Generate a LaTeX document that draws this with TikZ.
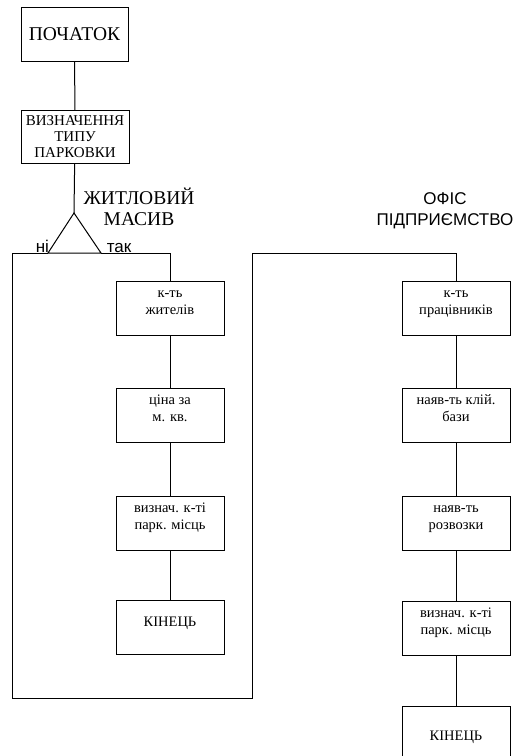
\documentclass[tikz,border=0pt]{standalone}
\usepackage{fontspec}
\setmainfont{Liberation Serif}
\newfontfamily\sansfont{Liberation Sans}
\usetikzlibrary{positioning}

\begin{document}
\begin{tikzpicture}[x=1pt,y=-1pt,line width=1pt,
  blok/.style={draw, rectangle, inner sep=0pt, minimum width=108pt, align=center,
    font=\fontsize{14.5}{17}\selectfont, text height=33pt, text depth=21pt},
  kinets/.style={blok, text height=26pt, text depth=28pt},
  napys/.style={align=center, font=\fontsize{19.5}{21}\selectfont},
  sansnapys/.style={font=\sansfont\fontsize{17}{21}\selectfont}]

\useasboundingbox (0,0) rectangle (524,756);

% start and type of parking
\node [draw, minimum width=107pt, minimum height=54pt, inner sep=0pt,
  font=\fontsize{19.5}{21}\selectfont] (start) at (74.5,34) {ПОЧАТОК};
\node [blok, font=\fontsize{15}{16}\selectfont, text height=47pt, text depth=6pt] (typ) at (75,110) [anchor=north] {ВИЗНАЧЕННЯ\\ТИПУ\\ПАРКОВКИ};

% decision
\coordinate (dapex) at (74,213);
\coordinate (dleft) at (48,253);
\coordinate (dright) at (101,253);
\draw (dapex) -- (dleft) -- (dright) -- cycle;

\node [napys] (zhytl) at (139,207) {ЖИТЛОВИЙ\\МАСИВ};
\node [sansnapys, anchor=base west] (ni) at (32,252) {ні};
\node [sansnapys, anchor=base west] (tak) at (103,252) {так};
\node [sansnapys, align=center] (ofis) at (445,211) {ОФІС\\ПІДПРИЄМСТВО};

% residential
\node [blok, anchor=north] (k1) at (170,281) {к-ть\\жителів};
\node [blok, anchor=north] (k2) at (170,388) {ціна за\\м. кв.};
\node [blok, anchor=north] (k3) at (170,496) {визнач. к-ті\\парк. місць};
\node [kinets, anchor=north] (k4) at (170,600) {КІНЕЦЬ};

% office
\node [blok, anchor=north] (p1) at (456,281) {к-ть\\працівників};
\node [blok, anchor=north] (p2) at (456,388) {наяв-ть клій.\\бази};
\node [blok, anchor=north] (p3) at (456,496) {наяв-ть\\розвозки};
\node [blok, anchor=north] (p4) at (456,601) {визнач. к-ті\\парк. місць};
\node [kinets, anchor=north, text height=34pt, text depth=21pt] (p5) at (456,706) {КІНЕЦЬ};

\coordinate (lbot) at (12,698);
\coordinate (rbot) at (252,698);
\coordinate (rtop) at (252,253);

\draw (start) -- (typ);
\draw (typ) -- (dapex);
\draw (dright) -| (k1);
\draw (k1) -- (k2);
\draw (k2) -- (k3);
\draw (k3) -- (k4);
\draw (dleft) -| (lbot) -- (rbot) -- (rtop) -| (p1);
\draw (p1) -- (p2);
\draw (p2) -- (p3);
\draw (p3) -- (p4);
\draw (p4) -- (p5);

\end{tikzpicture}
\end{document}
